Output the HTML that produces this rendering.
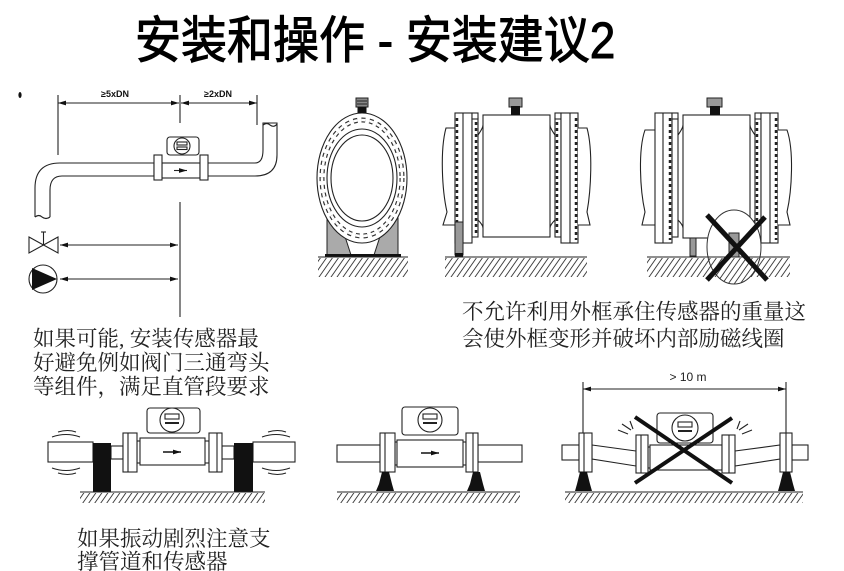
<!DOCTYPE html>
<html><head><meta charset="utf-8">
<style>
html,body{margin:0;padding:0;background:#fff;}
svg{display:block;}
.t{font-family:"Liberation Serif","Noto Serif CJK SC",serif;font-size:21.5px;fill:#222;}
.s{fill:#fff;stroke:#222;stroke-width:1.1;}
.l{stroke:#222;stroke-width:1.1;fill:none;}
</style></head><body>
<svg width="844" height="571" viewBox="0 0 844 571" xmlns="http://www.w3.org/2000/svg">
<defs>
<pattern id="h" width="6" height="12" patternUnits="userSpaceOnUse" patternTransform="skewX(-35)">
<line x1="3" y1="0" x2="3" y2="12" stroke="#333" stroke-width="1.1"/></pattern>
<marker id="ar" viewBox="0 0 10 6" refX="10" refY="3" markerWidth="8" markerHeight="5" orient="auto-start-reverse" markerUnits="userSpaceOnUse">
<path d="M0,0 L10,3 L0,6 z" fill="#111"/></marker>
</defs>

<!-- Title -->
<text x="135" y="58" transform="translate(0,-6) scale(1,1.1)" font-family="'Liberation Sans','Noto Sans CJK SC',sans-serif" font-size="46" fill="#000" stroke="#000" stroke-width="0.9">安装和操作 - 安装建议2</text>

<!-- ===== Diagram 1 ===== -->
<ellipse cx="20" cy="95" rx="1.6" ry="3" fill="#111"/>
<line x1="58" y1="95" x2="58" y2="155" class="l"/>
<line x1="180" y1="95" x2="180" y2="123" class="l"/>
<line x1="257" y1="95" x2="257" y2="125" class="l"/>
<line x1="58" y1="103" x2="179" y2="103" class="l" marker-start="url(#ar)" marker-end="url(#ar)"/>
<line x1="181" y1="103" x2="257" y2="103" class="l" marker-start="url(#ar)" marker-end="url(#ar)"/>
<text x="115" y="97" font-family="'Liberation Sans',sans-serif" font-size="9" font-weight="bold" text-anchor="middle" fill="#111">≥5xDN</text>
<text x="218" y="97" font-family="'Liberation Sans',sans-serif" font-size="9" font-weight="bold" text-anchor="middle" fill="#111">≥2xDN</text>
<path d="M35,217 L35,188 Q35,163 60,163 L154,163 L154,176 L62,176 Q50,176 50,190 L50,217" class="s"/>
<path d="M35,217 q4,-3 7,0 q4,3 8,0" class="l"/>
<path d="M208,163 L255,163 Q263,163 263,150 L263,123 L277,123 L277,155 Q277,176 255,176 L208,176" class="s"/>
<path d="M263,125 q4,-3 7,0 q4,3 7,-1" class="l"/>
<rect x="162" y="163" width="38" height="15" class="s"/>
<rect x="154" y="155" width="8" height="25" class="s"/>
<rect x="200" y="155" width="8" height="25" class="s"/>
<line x1="174" y1="170.5" x2="187" y2="170.5" class="l" marker-end="url(#ar)"/>
<rect x="167" y="137" width="32" height="18" rx="3" class="s"/>
<circle cx="182" cy="146" r="8" class="s"/>
<rect x="177" y="142" width="10" height="3" class="s"/>
<rect x="177" y="147" width="10" height="2.5" class="s"/>
<line x1="180" y1="202" x2="180" y2="317" class="l"/>
<path d="M29,237 L43.5,245 L29,253 z M58,237 L43.5,245 L58,253 z" class="s"/>
<line x1="43.5" y1="245" x2="43.5" y2="232" class="l"/><line x1="41" y1="232" x2="46" y2="232" class="l"/>
<line x1="60" y1="245" x2="178" y2="245" class="l" marker-start="url(#ar)" marker-end="url(#ar)"/>
<circle cx="43" cy="279" r="14" class="s"/>
<path d="M32,268 L57,279 L32,290 z" fill="#111"/>
<line x1="60" y1="279" x2="178" y2="279" class="l" marker-start="url(#ar)" marker-end="url(#ar)"/>

<!-- ===== Diagram 2 (front view) ===== -->
<polygon points="327,218 339,218 351,255 327,255" fill="#aaa" stroke="#222" stroke-width="1"/>
<polygon points="398,218 386,218 374,255 398,255" fill="#aaa" stroke="#222" stroke-width="1"/>
<ellipse cx="362" cy="178" rx="45" ry="65" class="s"/>
<ellipse cx="362" cy="178" rx="40" ry="58" fill="none" stroke="#333" stroke-width="5" stroke-dasharray="4 4"/>
<ellipse cx="362" cy="178" rx="40" ry="58" fill="none" stroke="#fff" stroke-width="2.6" stroke-dasharray="4 4"/>
<ellipse cx="362" cy="178" rx="35" ry="49" class="s"/>
<ellipse cx="362" cy="178" rx="31" ry="43" class="s"/>
<rect x="356" y="98" width="12" height="9" fill="#888" stroke="#222" stroke-width="1"/>
<line x1="357" y1="101" x2="367" y2="101" stroke="#222"/><line x1="357" y1="104" x2="367" y2="104" stroke="#222"/>
<rect x="357.5" y="107" width="9" height="6" fill="#111"/>
<rect x="325" y="254" width="76" height="3" fill="#111"/>
<line x1="318" y1="257" x2="408" y2="257" class="l"/>
<rect x="318" y="258" width="90" height="19" fill="url(#h)"/>

<!-- ===== Diagram 3 (side, support under flange) ===== -->
<path d="M455,128 L446,128 C440,150 442,190 447,212 L443,225 L455,225" class="s"/>
<rect x="455" y="113" width="17" height="130" class="s"/>
<line x1="463" y1="113" x2="463" y2="243" class="l"/>
<line x1="457" y1="118" x2="457" y2="240" stroke="#222" stroke-width="2.5" stroke-dasharray="3 3"/>
<rect x="472" y="118" width="6" height="119" class="s"/>
<line x1="476" y1="122" x2="476" y2="234" stroke="#222" stroke-width="2.5" stroke-dasharray="3 3"/>
<rect x="472" y="113" width="6" height="6" class="s"/>
<path d="M478,135 Q483,128 483,125 M478,220 Q483,225 483,228" class="l"/>
<rect x="483" y="115" width="67" height="122" class="s"/>
<rect x="509" y="98" width="13" height="9" fill="#999" stroke="#222"/>
<rect x="511" y="106" width="9" height="9" fill="#111"/>
<path d="M555,135 Q550,128 550,125 M555,220 Q550,225 550,228" class="l"/>
<rect x="555" y="118" width="6" height="119" class="s"/>
<line x1="557" y1="122" x2="557" y2="234" stroke="#222" stroke-width="2.5" stroke-dasharray="3 3"/>
<rect x="555" y="113" width="6" height="6" class="s"/>
<rect x="561" y="113" width="17" height="130" class="s"/>
<line x1="570" y1="113" x2="570" y2="243" class="l"/>
<line x1="576" y1="118" x2="576" y2="240" stroke="#222" stroke-width="2.5" stroke-dasharray="3 3"/>
<path d="M578,128 L587,128 C593,150 591,190 587,212 L590,225 L578,225" class="s"/>
<rect x="455" y="222" width="8" height="33" fill="#999" stroke="#222" stroke-width="1"/>
<rect x="455" y="253" width="8" height="4" fill="#111"/>
<line x1="445" y1="257" x2="587" y2="257" class="l"/>
<rect x="445" y="258" width="142" height="19" fill="url(#h)"/>

<!-- ===== Diagram 4 (with X) ===== -->
<path d="M655,130 L645,130 C638,150 640,190 645,212 L642,225 L655,225" class="s"/>
<rect x="655" y="113" width="17" height="130" class="s"/>
<line x1="663" y1="113" x2="663" y2="243" class="l"/>
<line x1="670" y1="118" x2="670" y2="240" stroke="#222" stroke-width="2.5" stroke-dasharray="3 3"/>
<rect x="672" y="118" width="6" height="119" class="s"/>
<rect x="672" y="113" width="6" height="6" class="s"/>
<path d="M678,135 Q683,128 683,125 M678,220 Q683,225 683,228" class="l"/>
<rect x="683" y="115" width="67" height="123" class="s"/>
<rect x="707" y="98" width="15" height="9" fill="#999" stroke="#222"/>
<rect x="710" y="106" width="10" height="9" fill="#111"/>
<path d="M755,135 Q750,128 750,125 M755,220 Q750,225 750,228" class="l"/>
<rect x="755" y="118" width="6" height="119" class="s"/>
<rect x="755" y="113" width="6" height="6" class="s"/>
<line x1="757" y1="122" x2="757" y2="234" stroke="#222" stroke-width="2.5" stroke-dasharray="3 3"/>
<rect x="761" y="113" width="17" height="130" class="s"/>
<line x1="770" y1="113" x2="770" y2="243" class="l"/>
<line x1="776" y1="118" x2="776" y2="240" stroke="#222" stroke-width="2.5" stroke-dasharray="3 3"/>
<path d="M778,130 L787,130 C794,150 792,190 787,212 L790,225 L778,225" class="s"/>
<rect x="690" y="238" width="6" height="18" fill="#999" stroke="#222" stroke-width="1"/>
<line x1="647" y1="257" x2="790" y2="257" class="l"/>
<rect x="647" y="258" width="143" height="19" fill="url(#h)"/>
<ellipse cx="734" cy="247" rx="27" ry="37" fill="#fff" stroke="#333" stroke-width="1"/>
<clipPath id="ce"><ellipse cx="734" cy="247" rx="27" ry="37"/></clipPath>
<rect x="705" y="258" width="60" height="30" fill="url(#h)" clip-path="url(#ce)"/>
<line x1="707" y1="257" x2="761" y2="257" class="l" clip-path="url(#ce)"/>
<rect x="729" y="233" width="10" height="24" fill="#999" stroke="#222"/>
<line x1="707" y1="215" x2="767" y2="280" stroke="#111" stroke-width="5"/>
<line x1="765" y1="217" x2="707" y2="280" stroke="#111" stroke-width="5"/>

<!-- ===== Diagram 5 (vibration, blocks) ===== -->
<path d="M52,437 q14,-5 28,0 M58,432 q10,-3 18,0 M52,468 q14,5 28,0 M58,473 q10,3 18,0" class="l"/>
<path d="M262,437 q14,-5 28,0 M268,432 q10,-3 18,0 M262,468 q14,5 28,0 M268,473 q10,3 18,0" class="l"/>
<rect x="48" y="442" width="45" height="20" class="s"/>
<rect x="253" y="442" width="42" height="20" class="s"/>
<rect x="111" y="446" width="12" height="13" class="s"/>
<rect x="222" y="446" width="12" height="13" class="s"/>
<rect x="93" y="443" width="18" height="49" fill="#111"/>
<rect x="234" y="443" width="19" height="49" fill="#111"/>
<rect x="137" y="441" width="72" height="22" class="s"/>
<rect x="140" y="438" width="65" height="27" class="s"/>
<rect x="123" y="433" width="14" height="39" class="s"/>
<line x1="128" y1="433" x2="128" y2="472" class="l"/>
<rect x="209" y="433" width="13" height="39" class="s"/>
<line x1="217" y1="433" x2="217" y2="472" class="l"/>
<line x1="163" y1="452" x2="181" y2="452" stroke="#111" stroke-width="1.5" marker-end="url(#ar)"/>
<rect x="147" y="408" width="53" height="25" rx="3" class="s"/>
<circle cx="172" cy="420" r="12" class="s"/>
<rect x="165" y="414" width="14" height="5" class="s"/>
<line x1="165" y1="423" x2="179" y2="423" stroke="#222" stroke-width="2"/>
<line x1="80" y1="492" x2="265" y2="492" class="l"/>
<rect x="80" y="493" width="185" height="10" fill="url(#h)"/>

<!-- ===== Diagram 6 (supports under flanges) ===== -->
<rect x="337" y="445" width="43" height="17" class="s"/>
<rect x="478" y="445" width="44" height="17" class="s"/>
<rect x="395" y="442" width="71" height="23" class="s"/>
<rect x="397" y="440" width="66" height="27" class="s"/>
<rect x="380" y="433" width="15" height="39" class="s"/>
<line x1="385" y1="433" x2="385" y2="472" class="l"/>
<rect x="466" y="433" width="12" height="39" class="s"/>
<line x1="473" y1="433" x2="473" y2="472" class="l"/>
<line x1="421" y1="453" x2="439" y2="453" stroke="#111" stroke-width="1.5" marker-end="url(#ar)"/>
<rect x="402" y="407" width="56" height="28" rx="3" class="s"/>
<circle cx="430" cy="420" r="12" class="s"/>
<rect x="423" y="414" width="14" height="5" class="s"/>
<line x1="423" y1="423" x2="437" y2="423" stroke="#222" stroke-width="2"/>
<polygon points="382,472 389,472 392,484 394,491 376,491 379,484" fill="#111"/>
<polygon points="473,472 480,472 483,484 485,491 467,491 470,484" fill="#111"/>
<line x1="337" y1="492" x2="520" y2="492" class="l"/>
<rect x="337" y="493" width="183" height="10" fill="url(#h)"/>

<!-- ===== Diagram 7 (>10 m, X) ===== -->
<line x1="583" y1="382" x2="583" y2="433" class="l"/>
<line x1="786" y1="382" x2="786" y2="433" class="l"/>
<line x1="583" y1="389" x2="786" y2="389" class="l" marker-start="url(#ar)" marker-end="url(#ar)"/>
<text x="688" y="381" font-family="'Liberation Sans',sans-serif" font-size="12" text-anchor="middle" fill="#222">&gt; 10 m</text>
<rect x="562" y="445" width="17" height="15" class="s"/>
<rect x="792" y="445" width="16" height="15" class="s"/>
<polygon points="592,445 636,451 636,466 592,459" class="s"/>
<polygon points="735,451 780,445 780,459 735,466" class="s"/>
<rect x="579" y="433" width="13" height="39" class="s"/>
<line x1="584" y1="433" x2="584" y2="472" class="l"/>
<rect x="780" y="433" width="12" height="39" class="s"/>
<line x1="786" y1="433" x2="786" y2="472" class="l"/>
<rect x="648" y="447" width="76" height="21" class="s"/>
<rect x="650" y="445" width="72" height="25" class="s"/>
<rect x="636" y="435" width="12" height="38" class="s"/>
<line x1="641" y1="435" x2="641" y2="473" class="l"/>
<rect x="722" y="435" width="13" height="38" class="s"/>
<line x1="729" y1="435" x2="729" y2="473" class="l"/>
<rect x="657" y="413" width="56" height="30" rx="3" class="s"/>
<circle cx="685" cy="428" r="13" class="s"/>
<rect x="678" y="422" width="14" height="5" class="s"/>
<line x1="678" y1="431" x2="692" y2="431" stroke="#222" stroke-width="2"/>
<path d="M618,430 l10,4 M622,424 l9,6 M630,421 l3,8 M752,430 l-10,4 M748,424 l-9,6 M740,421 l-3,8" class="l"/>
<polygon points="580,472 587,472 590,484 592,491 575,491 577,484" fill="#111"/>
<polygon points="783,472 790,472 793,484 795,491 778,491 780,484" fill="#111"/>
<line x1="565" y1="492" x2="803" y2="492" class="l"/>
<rect x="565" y="493" width="238" height="10" fill="url(#h)"/>
<line x1="635" y1="417" x2="732" y2="483" stroke="#111" stroke-width="4"/>
<line x1="732" y1="418" x2="635" y2="483" stroke="#111" stroke-width="4"/>

<!-- ===== Text blocks ===== -->
<text class="t" x="33" y="346">如果可能, 安装传感器最</text>
<text class="t" x="33" y="370">好避免例如阀门三通弯头</text>
<text class="t" x="33" y="394">等组件，满足直管段要求</text>

<text class="t" x="462" y="319">不允许利用外框承住传感器的重量这</text>
<text class="t" x="462" y="346">会使外框变形并破坏内部励磁线圈</text>

<text class="t" x="77" y="546">如果振动剧烈注意支</text>
<text class="t" x="77" y="569">撑管道和传感器</text>
</svg>
</body></html>
